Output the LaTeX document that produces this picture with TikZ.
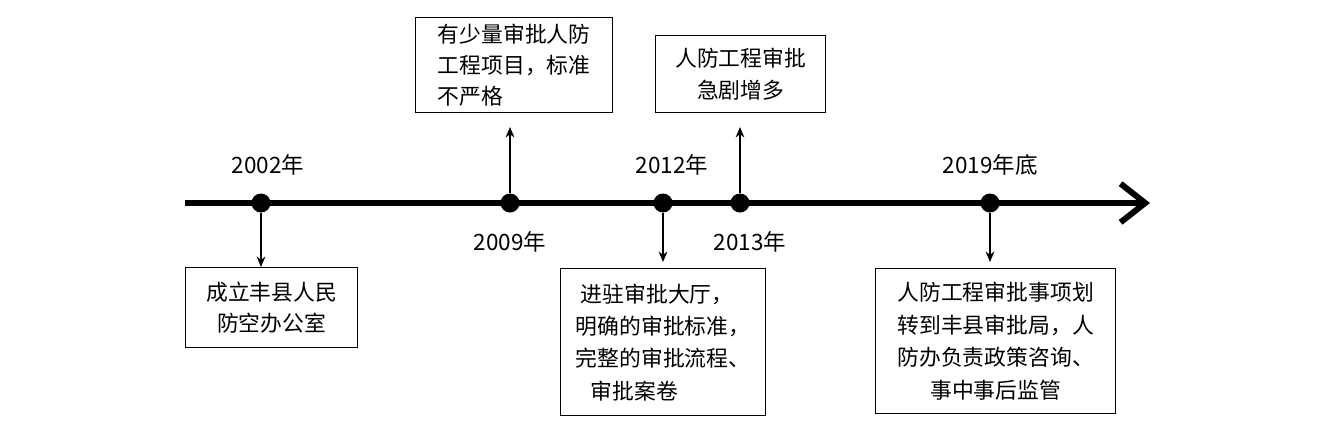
\documentclass[tikz,border=0pt]{standalone}
\usepackage{fontspec}
\setmainfont{Noto Sans CJK SC}
\usetikzlibrary{arrows.meta}
\begin{document}
\begin{tikzpicture}[x=0.01cm,y=-0.01cm,
  box/.style={draw,line width=0.35pt,anchor=north west,inner sep=0pt,font=\fontsize{6.2pt}{9pt}\selectfont},
  lbl/.style={font=\fontsize{6.4pt}{8pt}\selectfont},
  dot/.style={circle,fill=black,inner sep=0pt,minimum size=0.19cm},
  conn/.style={line width=0.35pt,-{Stealth[length=3pt,width=2.5pt]}}]
\useasboundingbox (0,0) rectangle (1334,445);
\coordinate (s) at (185,203);
\coordinate (e) at (1150,203);
\draw[line width=1.7pt,-{Straight Barb[length=7pt,width=11pt,line width=1.7pt]}] (s) -- (e);
\node[dot] (d1) at (261,203) {};
\node[dot] (d2) at (510,203) {};
\node[dot] (d3) at (663,203) {};
\node[dot] (d4) at (740,203) {};
\node[dot] (d5) at (990,203) {};
\node[lbl] (l1) at (268,165) {2002年};
\node[lbl] (l2) at (510,242) {2009年};
\node[lbl] (l3) at (672,165) {2012年};
\node[lbl] (l4) at (750,242) {2013年};
\node[lbl] (l5) at (990,165) {2019年底};
\node[box,minimum width=1.72cm,minimum height=0.80cm] (b1) at (185,267) {};
\node[align=center,font=\fontsize{6.2pt}{9pt}\selectfont] at (b1.center) {成立丰县人民\\防空办公室};
\node[box,minimum width=1.97cm,minimum height=0.95cm] (b2) at (415,17) {};
\node[align=left,font=\fontsize{6.2pt}{8.9pt}\selectfont] at (b2.center) {有少量审批人防\\工程项目，标准\\不严格};
\node[box,minimum width=1.70cm,minimum height=0.77cm] (b3) at (655,35) {};
\node[align=center,font=\fontsize{6.2pt}{8.9pt}\selectfont] at (b3.center) {人防工程审批\\急剧增多};
\node[box,minimum width=2.05cm,minimum height=1.47cm] (b4) at (560,268) {};
\node[align=left,font=\fontsize{6.2pt}{9.2pt}\selectfont] at (b4.center) {\ 进驻审批大厅，\\明确的审批标准，\\完整的审批流程、\\\ \ \ 审批案卷};
\node[box,minimum width=2.40cm,minimum height=1.45cm] (b5) at (875,268) {};
\node[align=center,font=\fontsize{6.2pt}{9.2pt}\selectfont] at (b5.center) {人防工程审批事项划\\转到丰县审批局，人\\防办负责政策咨询、\\事中事后监管};
\coordinate (t2) at (510,127);
\coordinate (t3) at (740,127);
\coordinate (t4) at (663,262);
\coordinate (t5) at (990,262);
\draw[conn] (d1) -- (b1.north -| d1);
\draw[conn] (d2) -- (t2);
\draw[conn] (d4) -- (t3);
\draw[conn] (d3) -- (t4);
\draw[conn] (d5) -- (t5);
\end{tikzpicture}
\end{document}
